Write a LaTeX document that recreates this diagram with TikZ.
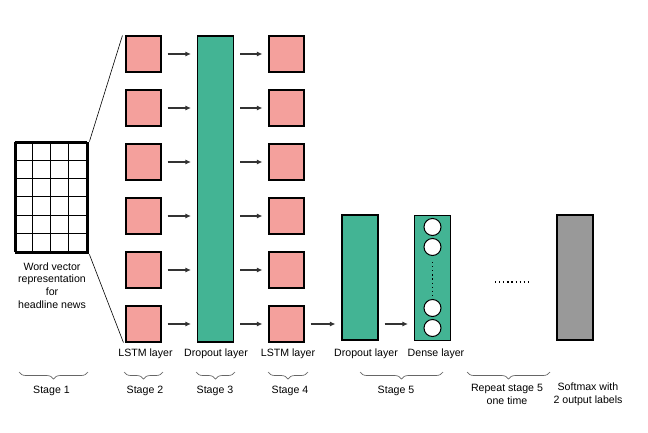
\documentclass[tikz,border=0pt]{standalone}
\usepackage{fontspec}
\setmainfont{Liberation Sans}
\usepackage{tikz}
\usetikzlibrary{positioning}
\usetikzlibrary{calc}
\usetikzlibrary{arrows.meta}
\usetikzlibrary{decorations.pathreplacing}
\definecolor{lstmpink}{HTML}{F4A09C}
\definecolor{dropgreen}{HTML}{43B494}
\definecolor{softgray}{HTML}{999999}

\begin{document}
\begin{tikzpicture} [
    x=1pt, y=-1pt,                   % one unit is one pixel, going down
    node distance=54pt and 143pt,    % row pitch and LSTM column pitch
    font=\fontsize{10.6}{12.6}\selectfont,
    ]
% -------------------------------------------------
\tikzset{
  base/.style={draw, line width=1.1pt, on grid, inner sep=0pt},
  lstm/.style={base, rectangle, fill=lstmpink, minimum width=35pt, minimum height=36pt},
  drop/.style={base, rectangle, fill=dropgreen, minimum width=36pt},
  unit/.style={draw, line width=1pt, circle, fill=white, minimum size=17pt, inner sep=0pt},
  line/.style={draw, line width=1.1pt, black!80, -{Latex[length=5.5pt,width=5pt]}, shorten <=6pt, shorten >=6pt},
  fan/.style={draw, line width=0.6pt},
  dots/.style={draw, line width=1.2pt, dash pattern=on 1.2pt off 2.9pt},
  stage/.style={draw, black!60, line width=0.7pt, decorate, decoration={brace, mirror, amplitude=7pt}},
  lbl/.style={align=center, inner sep=0pt},
}
    \useasboundingbox (0,0) rectangle (648,432);

    % Stage 1
    \node [draw, line width=2.8pt, minimum width=72pt, minimum height=110pt, inner sep=0pt] (wv) at (52,198) {};
    \draw [line width=0.6pt, shift={(wv.north west)}, xstep=18pt, ystep=18.333pt] (0,0) grid (72,110);
    \node [lbl, below=8pt of wv] (wvtext) {Word vector\\representation\\for\\headline news};

    % Stage 2 and 4
    \node [lstm] (a1) at (143.5,54) {};
    \node [lstm, below=of a1] (a2) {};
    \node [lstm, below=of a2] (a3) {};
    \node [lstm, below=of a3] (a4) {};
    \node [lstm, below=of a4] (a5) {};
    \node [lstm, below=of a5] (a6) {};

    \node [lstm, right=of a1] (b1) {};
    \node [lstm, below=of b1] (b2) {};
    \node [lstm, below=of b2] (b3) {};
    \node [lstm, below=of b3] (b4) {};
    \node [lstm, below=of b4] (b5) {};
    \node [lstm, below=of b5] (b6) {};

    % Stage 3, 5 and softmax
    \node [drop, minimum height=306pt] (d1) at (215.5,189) {};
    \node [drop, minimum height=125pt] (d2) at (360,277.5) {};
    \node [drop, minimum height=125pt] (dense) at (432.5,278) {};
    \node [base, fill=softgray, minimum width=36pt, minimum height=125pt] (soft) at (575,277.5) {};

    \node [unit] (u1) at (432.5,227) {};
    \node [unit] (u2) at (432.5,247) {};
    \node [unit] (u3) at (432.5,308) {};
    \node [unit] (u4) at (432.5,328) {};
    \path [dots, shorten <=6pt, shorten >=4pt] (u2) -- (u3);

    \coordinate (r1) at (495,282);
    \coordinate (r2) at (530,282);
    \path [dots] (r1) -- (r2);

    \path [fan] (wv.north east) -- ([xshift=-3pt]a1.north west);
    \path [fan] (wv.south east) -- ([xshift=-2pt]a6.south west);

    \path [line] (a1) -- (a1 -| d1.west);
    \path [line] (a2) -- (a2 -| d1.west);
    \path [line] (a3) -- (a3 -| d1.west);
    \path [line] (a4) -- (a4 -| d1.west);
    \path [line] (a5) -- (a5 -| d1.west);
    \path [line] (a6) -- (a6 -| d1.west);

    \path [line] (b1 -| d1.east) -- (b1);
    \path [line] (b2 -| d1.east) -- (b2);
    \path [line] (b3 -| d1.east) -- (b3);
    \path [line] (b4 -| d1.east) -- (b4);
    \path [line] (b5 -| d1.east) -- (b5);
    \path [line] (b6 -| d1.east) -- (b6);

    \path [line] (b6) -- (b6 -| d2.west);
    \path [line] (d2.east |- b6) -- (dense.west |- b6);

    % layer names
    \node (la) at (145.5,354) {LSTM layer};
    \node (ld1) at (216,354) {Dropout layer};
    \node (lb) at (288,354) {LSTM layer};
    \node (ld2) at (366,354) {Dropout layer};
    \node (ldense) at (436,354) {Dense layer};

    % stages
    \draw [stage] (19,372) -- (88,372);
    \draw [stage] (124,372) -- (163,372);
    \draw [stage] (196,372) -- (235,372);
    \draw [stage] (268,372) -- (308,372);
    \draw [stage] (360,372) -- (443,372);
    \draw [stage] (467,372) -- (550,372);

    \node (st1) at (51.5,391) {Stage 1};
    \node (st2) at (145,391) {Stage 2};
    \node (st3) at (215,391) {Stage 3};
    \node (st4) at (290,391) {Stage 4};
    \node (st5) at (396,391) {Stage 5};
    \node [lbl] (st6) at (507,394.5) {Repeat stage 5\\one time};
    \node [lbl] (st7) at (588,394.5) {Softmax with\\2 output labels};

\end{tikzpicture}
\end{document}
